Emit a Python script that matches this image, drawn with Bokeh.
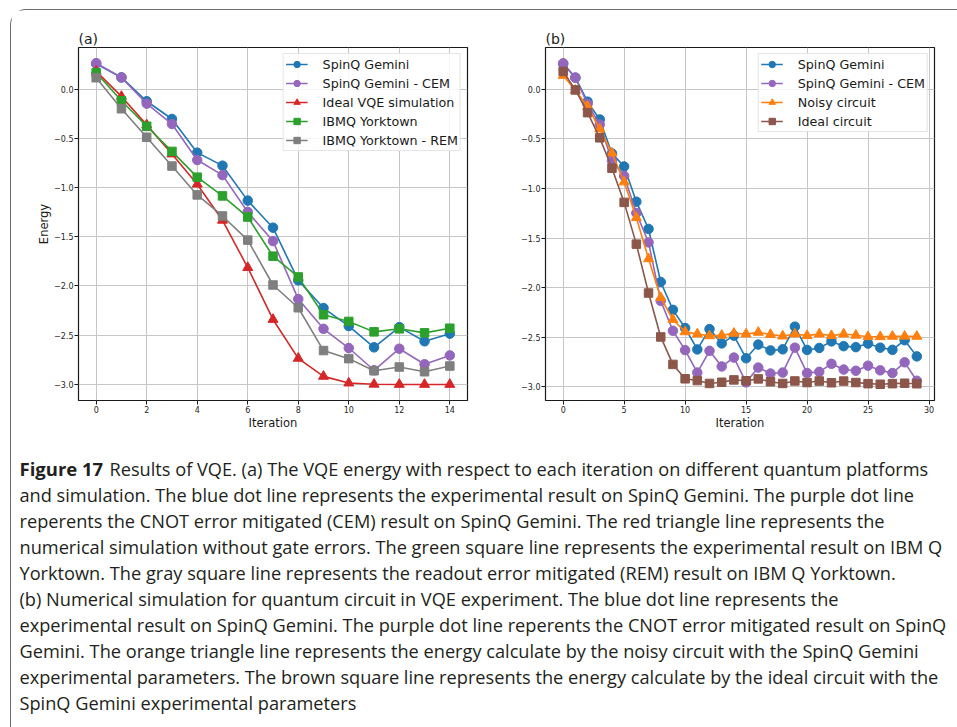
from bokeh.plotting import figure
from bokeh.layouts import row, column
from bokeh.models import Range1d, FixedTicker, CustomJSTickFormatter, ColumnDataSource
from bokeh.core.properties import value
from bokeh.embed import file_html
from bokeh.resources import INLINE

# ---------------- data ----------------
iter_a = list(range(15))
iter_b = list(range(30))

spinq_a = [0.257, 0.118, -0.124, -0.304, -0.646, -0.778, -1.133, -1.408, -1.943,
           -2.224, -2.407, -2.623, -2.418, -2.562, -2.484]
cem_a = [0.263, 0.118, -0.148, -0.355, -0.721, -0.874, -1.248, -1.544, -2.133,
         -2.435, -2.630, -2.856, -2.637, -2.795, -2.705]
ideal_vqe_a = [0.180, -0.075, -0.364, -0.660, -0.966, -1.333, -1.813, -2.340, -2.735,
               -2.918, -2.986, -2.998, -3.000, -3.000, -3.000]
ibmq_a = [0.165, -0.119, -0.378, -0.633, -0.895, -1.085, -1.300, -1.697, -1.908,
          -2.292, -2.360, -2.466, -2.435, -2.476, -2.429]
ibmq_rem_a = [0.115, -0.200, -0.490, -0.782, -1.075, -1.289, -1.534, -1.990, -2.221,
              -2.656, -2.738, -2.861, -2.823, -2.871, -2.813]

spinq_b = [0.257, 0.118, -0.124, -0.304, -0.646, -0.778, -1.133, -1.408, -1.943,
           -2.224, -2.407, -2.623, -2.418, -2.562, -2.484, -2.712, -2.574, -2.633,
           -2.622, -2.393, -2.628, -2.608, -2.542, -2.590, -2.600, -2.564, -2.605,
           -2.627, -2.530, -2.693]
cem_b = [0.263, 0.118, -0.148, -0.355, -0.721, -0.874, -1.248, -1.544, -2.133,
         -2.435, -2.630, -2.856, -2.637, -2.795, -2.705, -2.955, -2.806, -2.866,
         -2.856, -2.605, -2.861, -2.849, -2.768, -2.826, -2.838, -2.787, -2.834,
         -2.861, -2.753, -2.939]
noisy_b = [0.140, -0.010, -0.172, -0.400, -0.643, -0.934, -1.294, -1.709, -2.101,
           -2.321, -2.446, -2.468, -2.486, -2.481, -2.461, -2.468, -2.451, -2.473,
           -2.488, -2.468, -2.484, -2.468, -2.484, -2.468, -2.480, -2.495, -2.495,
           -2.491, -2.490, -2.491]
ideal_circ_b = [0.181, -0.006, -0.235, -0.489, -0.795, -1.140, -1.561, -2.054, -2.497,
                -2.774, -2.919, -2.937, -2.966, -2.954, -2.930, -2.939, -2.920, -2.949,
                -2.966, -2.941, -2.957, -2.942, -2.959, -2.942, -2.957, -2.968, -2.974,
                -2.968, -2.964, -2.969]

x_ticks_a = [0, 2, 4, 6, 8, 10, 12, 14]
x_ticks_b = [0, 5, 10, 15, 20, 25, 30]
y_ticks = [-3.0, -2.5, -2.0, -1.5, -1.0, -0.5, 0.0]

series_a = [
    ("SpinQ Gemini", spinq_a, "#1f77b4", "circle", 9.5),
    ("SpinQ Gemini - CEM", cem_a, "#9467bd", "circle", 9.5),
    ("Ideal VQE simulation", ideal_vqe_a, "#d62728", "triangle", 10),
    ("IBMQ Yorktown", ibmq_a, "#2ca02c", "square", 8.5),
    ("IBMQ Yorktown - REM", ibmq_rem_a, "#7f7f7f", "square", 8.5),
]
series_b = [
    ("SpinQ Gemini", spinq_b, "#1f77b4", "circle", 9.5),
    ("SpinQ Gemini - CEM", cem_b, "#9467bd", "circle", 9.5),
    ("Noisy circuit", noisy_b, "#ff7f0e", "triangle", 10),
    ("Ideal circuit", ideal_circ_b, "#8c564b", "square", 8.5),
]

caption_bold = "Figure 17"
caption_lines = [
    "Results of VQE. (a) The VQE energy with respect to each iteration on different quantum platforms",
    "and simulation. The blue dot line represents the experimental result on SpinQ Gemini. The purple dot line",
    "reperents the CNOT error mitigated (CEM) result on SpinQ Gemini. The red triangle line represents the",
    "numerical simulation without gate errors. The green square line represents the experimental result on IBM Q",
    "Yorktown. The gray square line represents the readout error mitigated (REM) result on IBM Q Yorktown.",
    "(b) Numerical simulation for quantum circuit in VQE experiment. The blue dot line represents the",
    "experimental result on SpinQ Gemini. The purple dot line reperents the CNOT error mitigated result on SpinQ",
    "Gemini. The orange triangle line represents the energy calculate by the noisy circuit with the SpinQ Gemini",
    "experimental parameters. The brown square line represents the energy calculate by the ideal circuit with the",
    "SpinQ Gemini experimental parameters",
]

AX_FONT = "DejaVu Sans"
CAP_FONT = "Open Sans"
INK = "#1a1a1a"


def make_panel(title, xs, series, x_ticks, xr, yr, width, ml, mr, ylabel):
    p = figure(width=width, height=430, x_range=Range1d(*xr), y_range=Range1d(*yr),
               output_backend="svg", toolbar_location=None, title=title,
               min_border_left=ml, min_border_right=mr, min_border_top=37,
               min_border_bottom=40)
    p.title.text_font = AX_FONT
    p.title.text_font_size = "14px"
    p.title.text_font_style = "normal"
    p.title.text_color = INK
    p.title.align = "left"
    p.title.offset = 0
    p.title.standoff = 2

    p.xaxis.ticker = FixedTicker(ticks=x_ticks)
    p.yaxis.ticker = FixedTicker(ticks=y_ticks)
    p.yaxis.formatter = CustomJSTickFormatter(
        code="return tick.toFixed(1).replace('-', '\u2212');")
    p.xaxis.axis_label = "Iteration"
    if ylabel:
        p.yaxis.axis_label = ylabel

    p.axis.axis_line_color = None
    p.axis.major_tick_line_color = INK
    p.axis.major_tick_line_width = 1
    p.axis.major_tick_out = 4
    p.axis.major_tick_in = 0
    p.axis.minor_tick_line_color = None
    p.axis.major_label_text_font = AX_FONT
    p.axis.major_label_text_font_size = "8px"
    p.axis.major_label_text_color = "#262626"
    p.axis.major_label_standoff = 1
    p.axis.axis_label_text_font = AX_FONT
    p.axis.axis_label_text_font_size = "11.5px"
    p.axis.axis_label_text_font_style = "normal"
    p.axis.axis_label_text_color = INK
    p.axis.axis_label_standoff = 0

    p.outline_line_color = INK
    p.outline_line_width = 1.2
    p.outline_line_alpha = 1
    p.grid.grid_line_color = "#c6c6c6"
    p.grid.grid_line_width = 1

    for label, ys, color, marker, size in series:
        src = ColumnDataSource(dict(x=xs, y=ys))
        p.line("x", "y", source=src, color=color, line_width=1.6, legend_label=label)
        p.scatter("x", "y", source=src, marker=marker, size=size, color=color,
                  legend_label=label)

    lg = p.legend[0]
    lg.location = "top_right"
    lg.margin = 6
    lg.padding = 2
    lg.spacing = 3
    lg.glyph_width = 22
    lg.glyph_height = 16
    lg.label_height = 16
    lg.label_standoff = 15
    lg.label_text_font = AX_FONT
    lg.label_text_font_size = "12.7px"
    lg.label_text_color = INK
    lg.border_line_color = "#cccccc"
    lg.border_line_width = 1
    lg.background_fill_alpha = 0.85
    return p


pa = make_panel("(a)", iter_a, series_a, x_ticks_a, (-0.7, 14.7), (-3.163, 0.422),
                467, 67, 11, "Energy")
pb = make_panel("(b)", iter_b, series_b, x_ticks_b, (-1.45, 30.45), (-3.138, 0.422),
                479, 67, 23, None)

CAP_W, CAP_H = 946, 287
cap = figure(width=CAP_W, height=CAP_H, x_range=Range1d(0, CAP_W), y_range=Range1d(CAP_H, 0),
             output_backend="svg", toolbar_location=None, min_border=0,
             x_axis_location=None, y_axis_location=None)
cap.grid.visible = False
cap.outline_line_color = None

line_y = [28 + 26 * i for i in range(len(caption_lines))]
line_x = [98] + [8] * (len(caption_lines) - 1)
cap.text(x=line_x, y=line_y, text=caption_lines, text_font=value(CAP_FONT),
         text_font_size="18.2px", text_color="#231f20", text_baseline="middle")
cap.text(x=[8], y=[line_y[0]], text=[caption_bold], text_font=value(CAP_FONT),
         text_font_size="18.5px", text_font_style="bold", text_color="#231f20",
         text_baseline="middle")

layout = column(row(pa, pb), cap,
                styles={"margin-left": "10px", "margin-top": "9px",
                        "border-left": "1.5px solid #6e6e6e",
                        "border-top": "1.5px solid #6e6e6e",
                        "border-top-left-radius": "16px"})

open("out.html", "w").write(file_html(layout, INLINE))
